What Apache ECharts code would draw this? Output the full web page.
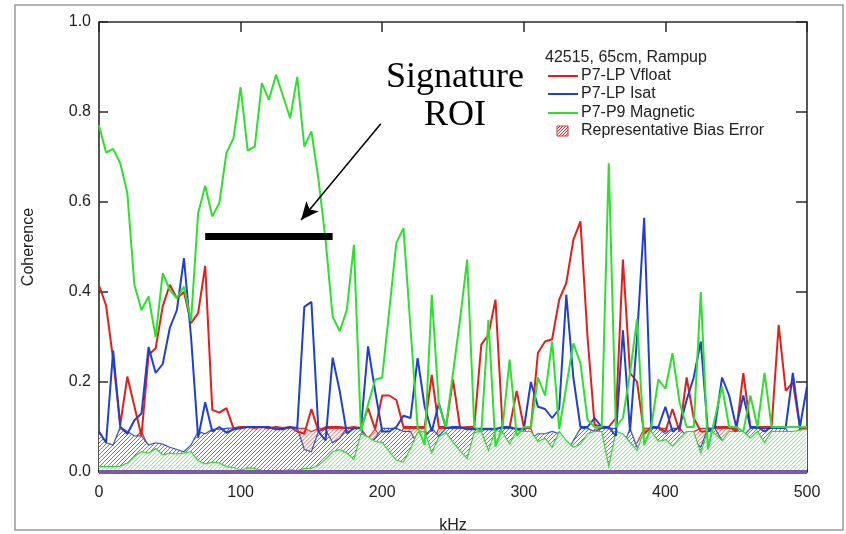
<!DOCTYPE html>
<html>
<head>
<meta charset="utf-8">
<script src="https://cdn.jsdelivr.net/npm/echarts@6/dist/echarts.min.js"></script>
<style>
  html, body { margin: 0; padding: 0; background: #fff; }
  #chart { width: 846px; height: 534px; }
</style>
</head>
<body>
<div id="chart"></div>
<script>
// Frequency bins (kHz)
const freqKHz = [
  0, 5, 10, 15, 20, 25, 30, 35, 40, 45, 50, 55, 60, 65, 70, 75, 80, 85, 90, 95,
  100, 105, 110, 115, 120, 125, 130, 135, 140, 145, 150, 155, 160, 165, 170, 175, 180, 185, 190, 195,
  200, 205, 210, 215, 220, 225, 230, 235, 240, 245, 250, 255, 260, 265, 270, 275, 280, 285, 290, 295,
  300, 305, 310, 315, 320, 325, 330, 335, 340, 345, 350, 355, 360, 365, 370, 375, 380, 385, 390, 395,
  400, 405, 410, 415, 420, 425, 430, 435, 440, 445, 450, 455, 460, 465, 470, 475, 480, 485, 490, 495,
  500
];

// Coherence, P7-LP Vfloat
const vfloat = [
  0.415, 0.37, 0.25, 0.105, 0.212, 0.146, 0.08, 0.26, 0.275, 0.368, 0.416, 0.386, 0.40, 0.331, 0.353, 0.458, 0.138, 0.132, 0.142, 0.097,
  0.10, 0.10, 0.098, 0.10, 0.097, 0.10, 0.098, 0.10, 0.09, 0.085, 0.14, 0.09, 0.10, 0.10, 0.10, 0.098, 0.10, 0.098, 0.142, 0.095,
  0.17, 0.17, 0.16, 0.10, 0.10, 0.10, 0.10, 0.216, 0.10, 0.10, 0.205, 0.098, 0.10, 0.10, 0.283, 0.305, 0.383, 0.10, 0.10, 0.18,
  0.10, 0.10, 0.265, 0.29, 0.295, 0.383, 0.42, 0.516, 0.557, 0.30, 0.105, 0.10, 0.10, 0.12, 0.472, 0.22, 0.20, 0.085, 0.10, 0.10,
  0.09, 0.14, 0.09, 0.21, 0.12, 0.09, 0.09, 0.10, 0.10, 0.10, 0.09, 0.22, 0.10, 0.10, 0.10, 0.10, 0.327, 0.18, 0.20, 0.10,
  0.10
];

// Coherence, P7-LP Isat
const isat = [
  0.09, 0.065, 0.27, 0.10, 0.085, 0.115, 0.13, 0.278, 0.22, 0.24, 0.32, 0.36, 0.475, 0.30, 0.076, 0.155, 0.09, 0.10, 0.087, 0.095,
  0.097, 0.10, 0.10, 0.10, 0.10, 0.095, 0.095, 0.10, 0.098, 0.367, 0.378, 0.09, 0.07, 0.254, 0.18, 0.086, 0.097, 0.097, 0.279, 0.18,
  0.09, 0.09, 0.10, 0.125, 0.12, 0.253, 0.145, 0.09, 0.153, 0.098, 0.10, 0.10, 0.095, 0.095, 0.095, 0.095, 0.095, 0.10, 0.10, 0.095,
  0.095, 0.20, 0.145, 0.14, 0.12, 0.14, 0.394, 0.21, 0.10, 0.10, 0.12, 0.10, 0.10, 0.08, 0.315, 0.09, 0.30, 0.565, 0.10, 0.10,
  0.145, 0.09, 0.10, 0.16, 0.21, 0.29, 0.09, 0.10, 0.21, 0.17, 0.10, 0.17, 0.10, 0.10, 0.09, 0.10, 0.10, 0.10, 0.22, 0.10,
  0.19
];

// Coherence, P7-P9 Magnetic
const magnetic = [
  0.77, 0.71, 0.718, 0.686, 0.62, 0.416, 0.36, 0.39, 0.30, 0.442, 0.405, 0.386, 0.412, 0.335, 0.575, 0.636, 0.568, 0.598, 0.709, 0.742,
  0.855, 0.714, 0.723, 0.864, 0.827, 0.883, 0.835, 0.786, 0.878, 0.723, 0.757, 0.65, 0.516, 0.345, 0.313, 0.36, 0.505, 0.09, 0.15, 0.205,
  0.21, 0.36, 0.509, 0.542, 0.32, 0.10, 0.06, 0.394, 0.15, 0.10, 0.22, 0.34, 0.472, 0.10, 0.09, 0.338, 0.057, 0.10, 0.25, 0.08,
  0.10, 0.10, 0.21, 0.17, 0.29, 0.095, 0.19, 0.286, 0.242, 0.116, 0.10, 0.10, 0.686, 0.10, 0.12, 0.22, 0.34, 0.06, 0.10, 0.206,
  0.185, 0.264, 0.155, 0.10, 0.10, 0.40, 0.05, 0.12, 0.19, 0.10, 0.10, 0.09, 0.17, 0.10, 0.22, 0.10, 0.10, 0.10, 0.10, 0.10,
  0.10
];

// Representative bias error of each coherence estimate
const vfloatBias = [
  0.035, 0.04, 0.055, 0.08, 0.06, 0.075, 0.09, 0.055, 0.05, 0.04, 0.035, 0.038, 0.036, 0.045, 0.042, 0.03, 0.075, 0.076, 0.075, 0.095,
  0.097, 0.097, 0.097, 0.097, 0.097, 0.097, 0.097, 0.097, 0.097, 0.097, 0.09, 0.097, 0.097, 0.097, 0.097, 0.097, 0.097, 0.097, 0.075, 0.095,
  0.07, 0.07, 0.072, 0.097, 0.097, 0.097, 0.097, 0.06, 0.097, 0.097, 0.065, 0.097, 0.097, 0.097, 0.05, 0.048, 0.038, 0.097, 0.097, 0.068,
  0.097, 0.097, 0.055, 0.05, 0.05, 0.038, 0.034, 0.024, 0.02, 0.05, 0.095, 0.097, 0.097, 0.09, 0.028, 0.062, 0.065, 0.097, 0.097, 0.097,
  0.097, 0.075, 0.097, 0.062, 0.09, 0.097, 0.097, 0.097, 0.097, 0.097, 0.097, 0.062, 0.097, 0.097, 0.097, 0.097, 0.045, 0.068, 0.065, 0.097,
  0.097
];
const isatBias = [
  0.09, 0.065, 0.06, 0.10, 0.09, 0.08, 0.08, 0.06, 0.065, 0.062, 0.055, 0.05, 0.045, 0.06, 0.09, 0.085, 0.095, 0.095, 0.097, 0.098,
  0.10, 0.10, 0.10, 0.10, 0.098, 0.098, 0.097, 0.098, 0.098, 0.05, 0.045, 0.09, 0.095, 0.065, 0.075, 0.097, 0.097, 0.097, 0.06, 0.075,
  0.097, 0.097, 0.097, 0.09, 0.09, 0.06, 0.08, 0.097, 0.08, 0.097, 0.097, 0.097, 0.097, 0.097, 0.097, 0.097, 0.097, 0.097, 0.097, 0.097,
  0.097, 0.075, 0.085, 0.085, 0.09, 0.085, 0.04, 0.07, 0.097, 0.097, 0.09, 0.097, 0.097, 0.097, 0.055, 0.097, 0.055, 0.02, 0.097, 0.097,
  0.085, 0.097, 0.097, 0.08, 0.07, 0.055, 0.097, 0.097, 0.07, 0.08, 0.097, 0.08, 0.097, 0.097, 0.097, 0.097, 0.097, 0.097, 0.07, 0.097,
  0.075
];
const magneticBias = [
  0.012, 0.012, 0.012, 0.013, 0.02, 0.035, 0.045, 0.042, 0.052, 0.038, 0.042, 0.04, 0.042, 0.045, 0.025, 0.018, 0.022, 0.02, 0.012, 0.01,
  0.004, 0.009, 0.008, 0.003, 0.003, 0.001, 0.003, 0.005, 0.003, 0.008, 0.008, 0.015, 0.028, 0.045, 0.05, 0.042, 0.028, 0.085, 0.078, 0.068,
  0.066, 0.045, 0.026, 0.022, 0.052, 0.088, 0.09, 0.042, 0.078, 0.088, 0.066, 0.047, 0.03, 0.088, 0.09, 0.048, 0.093, 0.088, 0.062, 0.092,
  0.09, 0.09, 0.068, 0.075, 0.055, 0.09, 0.07, 0.055, 0.062, 0.085, 0.09, 0.09, 0.013, 0.09, 0.085, 0.066, 0.048, 0.093, 0.09, 0.068,
  0.072, 0.058, 0.075, 0.09, 0.09, 0.042, 0.093, 0.085, 0.07, 0.09, 0.09, 0.09, 0.075, 0.09, 0.066, 0.09, 0.09, 0.09, 0.09, 0.093,
  0.095
];

// Axis ticks
const xTicks = [0, 100, 200, 300, 400, 500];
const yTicks = [0.0, 0.2, 0.4, 0.6, 0.8, 1.0];

// Annotation: region-of-interest bar and pointer (data units)
const roiBar = { from: 75, to: 165, level: 0.524 };
const roiArrow = { from: [199, 0.774], to: [142.7, 0.56] };

const RED = '#e0201c';
const BLUE = '#2040cc';
const GREEN = '#2ee02e';
const SANS = '"Liberation Sans", Arial, sans-serif';
const HATCH_STEP = 4;

const pair = arr => freqKHz.map((f, i) => [f, arr[i]]);

// SVG path of 45° hatch strokes clipped to the region between a polyline top and a baseline
function hatchPath(top, baseY, step) {
  const n = top.length;
  const xL = top[0][0], xR = top[n - 1][0];
  let minY = baseY;
  top.forEach(p => { if (p[1] < minY) minY = p[1]; });
  const topAt = x => {
    for (let i = 0; i < n - 1; i++) {
      const a = top[i], b = top[i + 1];
      if (x >= a[0] && x <= b[0]) {
        const t = b[0] === a[0] ? 0 : (x - a[0]) / (b[0] - a[0]);
        return a[1] + t * (b[1] - a[1]);
      }
    }
    return baseY;
  };
  let d = '';
  const h = baseY - minY;
  for (let c = xL - h; c <= xR; c += step) {
    let inside = false, sx = 0, sy = 0, px = 0, py = 0;
    const x0 = Math.max(xL, c);
    const x1 = Math.min(xR, c + h);
    for (let x = x0; x <= x1 + 0.001; x += 0.5) {
      const y = baseY - (x - c);
      const ok = y >= topAt(x) - 0.01 && y <= baseY + 0.01;
      if (ok && !inside) { inside = true; sx = x; sy = y; }
      if (!ok && inside) { inside = false; d += 'M' + sx.toFixed(2) + ' ' + sy.toFixed(2) + 'L' + px.toFixed(2) + ' ' + py.toFixed(2); }
      px = x; py = y;
    }
    if (inside) d += 'M' + sx.toFixed(2) + ' ' + sy.toFixed(2) + 'L' + px.toFixed(2) + ' ' + py.toFixed(2);
  }
  return d;
}

// Hatched bias band from 0 up to the bias level, outlined in the series colour
function biasSeries(name, arr, edgeColor, hatchColor) {
  return {
    name: name, type: 'custom', data: pair(arr), silent: true, clip: true,
    encode: { x: 0, y: 1 },
    renderItem: (params, api) => {
      if (params.dataIndex !== 0) return null;
      const top = arr.map((v, i) => api.coord([freqKHz[i], v]));
      const baseY = api.coord([freqKHz[0], 0])[1];
      const xL = top[0][0], xR = top[top.length - 1][0];
      return {
        type: 'group',
        children: [
          { type: 'polygon', shape: { points: top.concat([[xR, baseY], [xL, baseY]]) },
            style: { fill: '#ffffff', stroke: null } },
          { type: 'path', shape: { pathData: hatchPath(top, baseY, HATCH_STEP) },
            style: { fill: null, stroke: hatchColor, lineWidth: 1 } },
          { type: 'polyline', shape: { points: top }, style: { fill: null, stroke: edgeColor, lineWidth: 1.2 } }
        ]
      };
    }
  };
}
function coherenceSeries(name, arr, color) {
  return {
    name: name, type: 'line', data: pair(arr), showSymbol: false,
    lineStyle: { color: color, width: 2 }, itemStyle: { color: color }
  };
}

const chart = echarts.init(document.getElementById('chart'), null, { renderer: 'canvas' });

const frameLine = { show: true, onZero: false, lineStyle: { color: '#2a2a2a', width: 1.6 } };
const labelFont = { fontFamily: SANS, fontSize: 16, color: '#222' };

const redLine = coherenceSeries('P7-LP Vfloat', vfloat, RED);
redLine.markLine = {
  silent: true, animation: false, symbol: 'none', label: { show: false },
  lineStyle: { color: '#7a5aa8', width: 4, type: 'solid' },
  data: [{ yAxis: 0 }]
};

const greenLine = coherenceSeries('P7-P9 Magnetic', magnetic, GREEN);
greenLine.markLine = {
  silent: true, animation: false,
  label: { show: false },
  data: [
    [
      { coord: [roiBar.from, roiBar.level], symbol: 'none', lineStyle: { color: '#000', width: 7, type: 'solid' } },
      { coord: [roiBar.to, roiBar.level], symbol: 'none' }
    ],
    [
      { coord: roiArrow.from, symbol: 'none', lineStyle: { color: '#000', width: 1.5, type: 'solid' } },
      { coord: roiArrow.to, symbol: 'arrow', symbolSize: [12, 18] }
    ]
  ]
};

const legendText = (text, y) => ({
  type: 'text', silent: true, x: 581, y: y,
  style: { text: text, font: '16px ' + SANS, fill: '#222',
           textAlign: 'left', textVerticalAlign: 'middle', align: 'left', verticalAlign: 'middle' }
});
const legendLine = (color, y) => ({
  type: 'line', silent: true, shape: { x1: 548, y1: y, x2: 578, y2: y }, style: { stroke: color, lineWidth: 2 }
});
// small hatched swatch for the bias entry
const swatchLines = [];
for (let k = -10; k <= 11; k += 3) {
  const x1 = Math.max(557, 557 + k), y1 = 135 - Math.max(0, -k);
  const x2 = Math.min(568, 557 + k + 10), y2 = 135 - (x2 - (557 + k));
  if (x2 > x1) swatchLines.push({ type: 'line', silent: true, shape: { x1: x1, y1: y1, x2: x2, y2: y2 },
                                   style: { stroke: '#dd3030', lineWidth: 1 } });
}

const option = {
  animation: false,
  backgroundColor: '#fff',
  grid: { left: 99, right: 39, top: 22, bottom: 62, containLabel: false, outerBoundsMode: 'none' },
  xAxis: [
    {
      type: 'value', min: 0, max: 500, interval: 100, position: 'bottom',
      axisLine: frameLine,
      axisTick: { show: true, inside: true, length: 4, lineStyle: { color: '#2a2a2a', width: 1.5 } },
      axisLabel: Object.assign({ margin: 13, formatter: v => xTicks.includes(v) ? String(v) : '' }, labelFont),
      splitLine: { show: false },
      name: 'kHz', nameLocation: 'middle', nameGap: 46,
      nameTextStyle: { fontFamily: SANS, fontSize: 16, color: '#222' }
    },
    {
      type: 'value', min: 0, max: 500, interval: 100, position: 'top',
      axisLine: frameLine,
      axisTick: { show: true, inside: true, length: 10, lineStyle: { color: '#2a2a2a', width: 1.5 } },
      axisLabel: { show: false }, splitLine: { show: false }
    }
  ],
  yAxis: [
    {
      type: 'value', min: 0, max: 1, interval: 0.2, position: 'left',
      axisLine: frameLine,
      axisTick: { show: true, inside: true, length: 9, lineStyle: { color: '#2a2a2a', width: 1.5 } },
      axisLabel: Object.assign({ margin: 8, formatter: v => yTicks.some(t => Math.abs(t - v) < 1e-9) ? v.toFixed(1) : '' }, labelFont),
      splitLine: { show: false },
      name: 'Coherence', nameLocation: 'middle', nameGap: 62,
      nameTextStyle: { fontFamily: SANS, fontSize: 16, color: '#222' }
    },
    {
      type: 'value', min: 0, max: 1, interval: 0.2, position: 'right',
      axisLine: frameLine,
      axisTick: { show: true, inside: true, length: 11, lineStyle: { color: '#2a2a2a', width: 1.5 } },
      axisLabel: { show: false }, splitLine: { show: false }
    }
  ],
  series: [
    biasSeries('Vfloat bias', vfloatBias, '#dd3030', '#e66a6a'),
    biasSeries('Isat bias', isatBias, '#3050c8', '#5a75dc'),
    biasSeries('Magnetic bias', magneticBias, '#3ad03a', '#80da80'),
    redLine,
    coherenceSeries('P7-LP Isat', isat, BLUE),
    greenLine
  ],
  graphic: [
    // outer frame
    { type: 'rect', silent: true, shape: { x: 15, y: 5, width: 828, height: 525 },
      style: { fill: 'none', stroke: '#9a9a9a', lineWidth: 1.5 } },
    // ROI caption
    { type: 'text', silent: true, x: 455, y: 78,
      style: { text: 'Signature', font: '36px "Liberation Serif", "Times New Roman", serif', fill: '#000',
               textAlign: 'center', textVerticalAlign: 'middle', align: 'center', verticalAlign: 'middle' } },
    { type: 'text', silent: true, x: 455, y: 116,
      style: { text: 'ROI', font: '36px "Liberation Serif", "Times New Roman", serif', fill: '#000',
               textAlign: 'center', textVerticalAlign: 'middle', align: 'center', verticalAlign: 'middle' } },
    // legend
    { type: 'text', silent: true, x: 545, y: 58,
      style: { text: '42515, 65cm, Rampup', font: '16px ' + SANS, fill: '#222',
               textAlign: 'left', textVerticalAlign: 'middle', align: 'left', verticalAlign: 'middle' } },
    legendLine(RED, 76), legendText('P7-LP Vfloat', 76),
    legendLine(BLUE, 94), legendText('P7-LP Isat', 94),
    legendLine(GREEN, 113), legendText('P7-P9 Magnetic', 113),
    { type: 'rect', silent: true, shape: { x: 557, y: 126, width: 11, height: 10 },
      style: { fill: '#fff', stroke: '#dd3030', lineWidth: 1 } }
  ].concat(swatchLines.map(l => { l.shape.y1 += 1; l.shape.y2 += 1; return l; })).concat([
    legendText('Representative Bias Error', 131)
  ])
};

chart.setOption(option);
</script>
</body>
</html>
